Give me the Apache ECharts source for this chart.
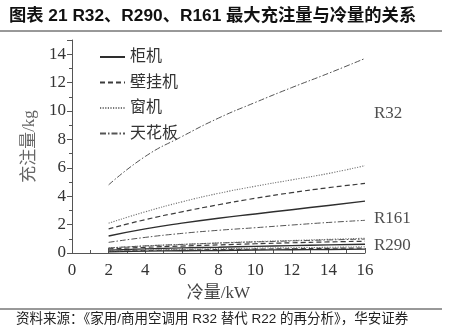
<!DOCTYPE html>
<html>
<head>
<meta charset="utf-8">
<script src="https://cdn.jsdelivr.net/npm/echarts@6/dist/echarts.min.js"></script>
<style>
html,body{margin:0;padding:0;background:#fff;}
#c{width:454px;height:330px;}
</style>
</head>
<body>
<div id="c"></div>
<script>
// Data
var coolingKW = [2, 4, 6, 8, 10, 12, 14, 16];
var typeNames = ['柜机', '壁挂机', '窗机', '天花板'];
var groupNames = ['R32', 'R161', 'R290'];
var groupLabelValues = [9.8, 2.4, 0.5];

var r32Cabinet   = [1.2, 1.7, 2.1, 2.45, 2.75, 3.05, 3.35, 3.65];
var r32Wall      = [1.7, 2.35, 2.9, 3.4, 3.85, 4.25, 4.6, 4.9];
var r32Window    = [2.1, 2.9, 3.6, 4.2, 4.7, 5.15, 5.6, 6.15];
var r32Ceiling   = [4.8, 6.8, 8.2, 9.5, 10.6, 11.65, 12.65, 13.7];

var r161Cabinet  = [0.2, 0.29, 0.36, 0.41, 0.47, 0.52, 0.57, 0.62];
var r161Wall     = [0.29, 0.4, 0.49, 0.57, 0.65, 0.72, 0.78, 0.83];
var r161Window   = [0.36, 0.5, 0.61, 0.71, 0.8, 0.88, 0.96, 1.04];
var r161Ceiling  = [0.75, 1.1, 1.38, 1.6, 1.78, 1.97, 2.15, 2.3];

var r290Cabinet  = [0.09, 0.13, 0.16, 0.18, 0.21, 0.23, 0.25, 0.27];
var r290Wall     = [0.12, 0.17, 0.21, 0.24, 0.27, 0.3, 0.33, 0.35];
var r290Window   = [0.15, 0.21, 0.26, 0.3, 0.34, 0.37, 0.4, 0.44];
var r290Ceiling  = [0.35, 0.5, 0.6, 0.7, 0.78, 0.85, 0.92, 0.98];

var groups = [
  [r32Cabinet, r32Wall, r32Window, r32Ceiling],
  [r161Cabinet, r161Wall, r161Window, r161Ceiling],
  [r290Cabinet, r290Wall, r290Window, r290Ceiling]
];

var styles = [
  {color: '#2e2e2e', width: 1.4, type: 'solid'},
  {color: '#3c3c3c', width: 1.2, type: [5, 3]},
  {color: '#777777', width: 1.1, type: [1.2, 1.4]},
  {color: '#555555', width: 1.0, type: [6, 2, 1.5, 2]}
];

var series = [];
groups.forEach(function (g) {
  g.forEach(function (vals, ti) {
    series.push({
      name: typeNames[ti],
      type: 'line',
      symbol: 'none',
      legendIcon: 'none',
      smooth: true,
      silent: true,
      lineStyle: styles[ti],
      itemStyle: {color: styles[ti].color},
      data: coolingKW.map(function (x, i) { return [x, vals[i]]; })
    });
  });
});

var serif = '"Liberation Serif", "DejaVu Serif", serif';
var cjk = '"Liberation Serif", "Noto Sans CJK SC", serif';

var chart = echarts.init(document.getElementById('c'), null, {renderer: 'canvas'});

series.push({
  type: 'scatter',
  symbolSize: 0,
  silent: true,
  data: groupNames.map(function (n, i) { return {value: [16, groupLabelValues[i]], name: n}; }),
  label: {
    show: true,
    position: 'right',
    distance: 9,
    formatter: function (p) { return p.name; },
    fontFamily: serif,
    fontSize: 17,
    color: '#222'
  }
});

chart.setOption({
  animation: false,
  backgroundColor: '#fff',
  title: {
    text: '图表 21 R32、R290、R161 最大充注量与冷量的关系',
    left: 4,
    top: 3,
    textStyle: {
      fontFamily: '"Liberation Sans", "Noto Sans CJK SC", sans-serif',
      fontWeight: 'bold',
      fontSize: 17.3,
      color: '#111'
    }
  },
  legend: {
    data: typeNames,
    orient: 'vertical',
    left: 94,
    top: 44,
    itemWidth: 25,
    itemHeight: 14,
    itemGap: 9.5,
    itemStyle: {opacity: 0, borderWidth: 0},
    textStyle: {fontFamily: cjk, fontSize: 16, color: '#333', lineHeight: 14}
  },
  grid: {left: 72, right: 89, top: 40, bottom: 77, containLabel: false},
  xAxis: {
    type: 'value',
    min: 0, max: 16, interval: 2,
    name: '冷量/kW',
    nameLocation: 'middle',
    nameGap: 32,
    nameTextStyle: {fontFamily: cjk, fontSize: 17, color: '#444'},
    axisLine: {onZero: false, lineStyle: {color: '#555', width: 1}},
    axisTick: {inside: true, length: 5, lineStyle: {color: '#555'}},
    minorTick: {show: true, splitNumber: 2, length: 3, lineStyle: {color: '#555'}},
    axisLabel: {fontFamily: serif, fontSize: 17, color: '#333', margin: 9},
    splitLine: {show: false}
  },
  yAxis: {
    type: 'value',
    min: 0, max: 15, interval: 2,
    name: '充注量/kg',
    nameLocation: 'middle',
    nameRotate: 90,
    nameGap: 26,
    nameTextStyle: {fontFamily: cjk, fontSize: 17, color: '#666'},
    axisLine: {show: true, lineStyle: {color: '#555', width: 1}},
    axisTick: {show: true, inside: false, length: 5, lineStyle: {color: '#555'}},
    minorTick: {show: true, splitNumber: 2, length: 3, lineStyle: {color: '#555'}},
    axisLabel: {fontFamily: serif, fontSize: 17, color: '#333', margin: 6, showMaxLabel: false},
    splitLine: {show: false}
  },
  graphic: [
    {type: 'line', shape: {x1: 0, y1: 31, x2: 442, y2: 31}, style: {stroke: '#333', lineWidth: 1}},
    {type: 'line', shape: {x1: 0, y1: 309, x2: 442, y2: 309}, style: {stroke: '#333', lineWidth: 1}},
    {type: 'text', left: 16, top: 313, style: {
      text: '资料来源：《家用/商用空调用 R32 替代 R22 的再分析》，华安证券',
      font: '13.5px "Liberation Sans", "Noto Sans CJK SC", sans-serif',
      fill: '#222'
    }}
  ],
  series: series
});
</script>
</body>
</html>
